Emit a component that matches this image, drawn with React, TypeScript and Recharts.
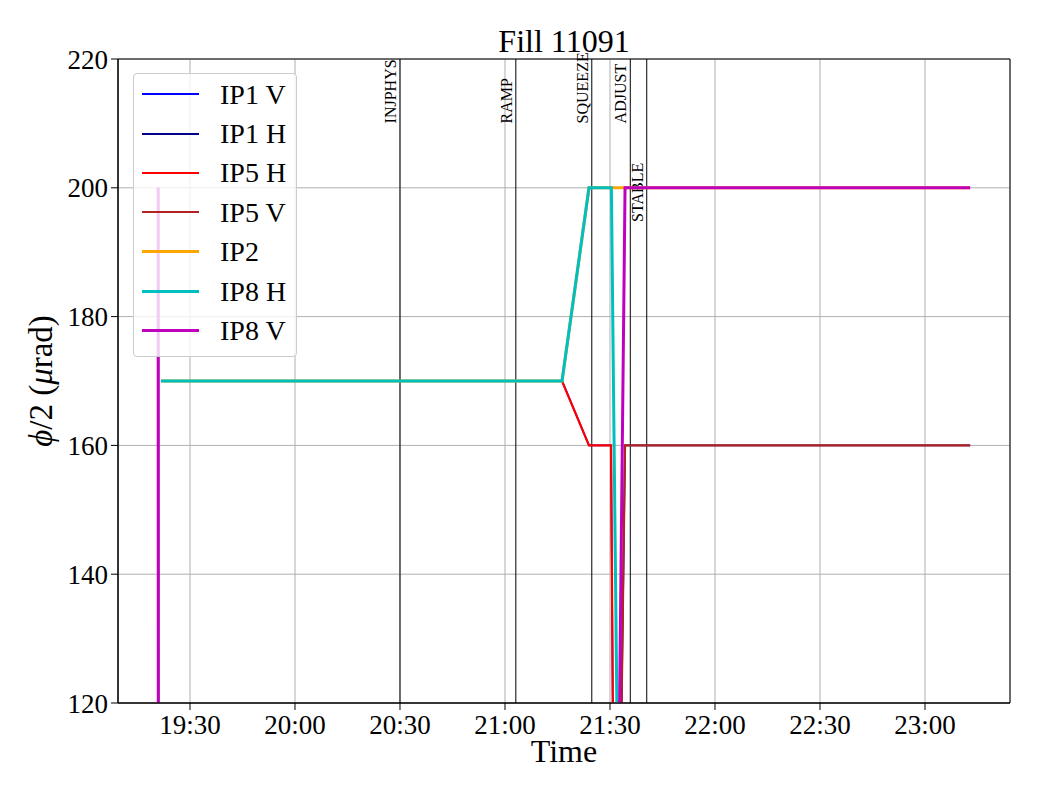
import {
  LineChart,
  Line,
  XAxis,
  YAxis,
  CartesianGrid,
  ReferenceLine,
  ReferenceArea,
  Legend,
  Label,
} from "recharts";

const FONT = '"Liberation Serif", "DejaVu Serif", serif';

// times are minutes after 19:00
const IP1_V_TIME = [21.7, 136.3, 144.0, 150.3, 152.3, 252.9];
const IP1_V_VALUE = [170, 170, 160, 160, 0, 0];
const IP1_H_TIME = [20.9, 21.0, 150.4, 154.3, 252.9];
const IP1_H_VALUE = [200, 0, 0, 160, 160];
const IP5_H_TIME = [21.7, 136.3, 144.0, 150.3, 152.3, 252.9];
const IP5_H_VALUE = [170, 170, 160, 160, 0, 0];
const IP5_V_TIME = [20.9, 21.0, 150.4, 154.3, 252.9];
const IP5_V_VALUE = [200, 0, 0, 160, 160];
const IP2_TIME = [21.7, 136.3, 144.0, 252.9];
const IP2_VALUE = [170, 170, 200, 200];
const IP8_H_TIME = [21.7, 136.3, 144.0, 150.4, 154.3, 252.9];
const IP8_H_VALUE = [170, 170, 200, 200, 0, 0];
const IP8_V_TIME = [20.9, 21.0, 150.4, 154.3, 252.9];
const IP8_V_VALUE = [200, 0, 0, 200, 200];

const EVENT_NAMES = ["INJPHYS", "RAMP", "SQUEEZE", "ADJUST", "STABLE"];
const EVENT_TIMES = [90.0, 123.1, 144.8, 155.8, 160.5];
const EVENT_LABEL_AT = [210, 210, 210, 210, 194.7];

const X_TICKS = [30, 60, 90, 120, 150, 180, 210, 240];
const Y_TICKS = [120, 140, 160, 180, 200, 220];

const toPoints = (t: number[], v: number[]) =>
  t.map((x, i) => ({ t: x, v: v[i] }));

const SERIES = [
  { name: "IP1 V", color: "#0000ff", width: 1.8, data: toPoints(IP1_V_TIME, IP1_V_VALUE) },
  { name: "IP1 H", color: "#00008b", width: 1.8, data: toPoints(IP1_H_TIME, IP1_H_VALUE) },
  { name: "IP5 H", color: "#ff0000", width: 2.2, data: toPoints(IP5_H_TIME, IP5_H_VALUE) },
  { name: "IP5 V", color: "#b22222", width: 2.2, data: toPoints(IP5_V_TIME, IP5_V_VALUE) },
  { name: "IP2", color: "#ffa500", width: 3, data: toPoints(IP2_TIME, IP2_VALUE) },
  { name: "IP8 H", color: "#00bfbf", width: 3, data: toPoints(IP8_H_TIME, IP8_H_VALUE) },
  { name: "IP8 V", color: "#bf00bf", width: 3, data: toPoints(IP8_V_TIME, IP8_V_VALUE) },
];

const fmtTime = (m: number) =>
  `${19 + Math.floor(m / 60)}:${String(m % 60).padStart(2, "0")}`;

const eventLabel = (name: string, level: number) => (props: any) => {
  const vb = props.viewBox;
  const top = Math.min(vb.y, vb.y + vb.height);
  const h = Math.abs(vb.height);
  const x = vb.x - 4;
  const y = top + (h * (220 - level)) / 100;
  return (
    <text
      x={x}
      y={y}
      transform={`rotate(-90 ${x} ${y})`}
      fontFamily={FONT}
      fontSize={16}
      fill="#000"
    >
      {name}
    </text>
  );
};

const YLabel = (props: any) => {
  const vb = props.viewBox;
  const x = vb.x + 52;
  const y = vb.y + vb.height / 2;
  return (
    <text
      x={x}
      y={y}
      transform={`rotate(-90 ${x} ${y})`}
      textAnchor="middle"
      fontFamily={FONT}
      fontSize={33}
      fill="#000"
    >
      <tspan fontStyle="italic">ϕ</tspan>/2 (<tspan fontStyle="italic">μ</tspan>rad)
    </text>
  );
};

const XLabel = (props: any) => {
  const vb = props.viewBox;
  return (
    <text
      x={vb.x + vb.width / 2}
      y={762}
      textAnchor="middle"
      fontFamily={FONT}
      fontSize={32}
      fill="#000"
    >
      Time
    </text>
  );
};

const LegendBox = () => (
  <div
    style={{
      width: 164,
      height: 284,
      boxSizing: "border-box",
      border: "1px solid #cccccc",
      borderRadius: 4,
      background: "rgba(255,255,255,0.8)",
      paddingTop: 0.6,
      fontFamily: FONT,
    }}
  >
    {SERIES.map((s) => (
      <div
        key={s.name}
        style={{ display: "flex", alignItems: "center", height: 39.4 }}
      >
        <div
          style={{
            marginLeft: 8,
            width: 57,
            height: s.width < 2.5 ? 2 : 3,
            background: s.color,
          }}
        />
        <span style={{ marginLeft: 21, fontSize: 28, color: "#000", lineHeight: "39.4px" }}>
          {s.name}
        </span>
      </div>
    ))}
  </div>
);

const tickStyle = { fontSize: 27, fill: "#000", fontFamily: FONT };

const App = () => {
  return (
    <div style={{ position: "absolute", left: 0, top: 0, width: 1040, height: 800, background: "#fff" }}>
      <div
        style={{
          position: "absolute",
          left: 118,
          top: 25,
          width: 892,
          textAlign: "center",
          fontFamily: FONT,
          fontSize: 32,
          lineHeight: "32px",
          color: "#000",
          zIndex: 1,
        }}
      >
        Fill 11091
      </div>
      <LineChart
        width={1040}
        height={800}
        margin={{ top: 59, right: 30, bottom: 0, left: 0 }}
      >
        <CartesianGrid stroke="#b0b0b0" strokeWidth={1} />
        <XAxis
          dataKey="t"
          type="number"
          domain={[9.43, 264.29]}
          allowDataOverflow
          ticks={X_TICKS}
          interval={0}
          tickFormatter={fmtTime}
          height={97}
          tick={tickStyle}
          tickSize={7}
          tickMargin={5}
          stroke="#000"
        >
          <Label content={XLabel} />
        </XAxis>
        <YAxis
          type="number"
          domain={[120, 220]}
          allowDataOverflow
          ticks={Y_TICKS}
          interval={0}
          width={118}
          tick={tickStyle}
          tickSize={7}
          tickMargin={3}
          stroke="#000"
        >
          <Label content={YLabel} />
        </YAxis>
        {EVENT_NAMES.map((name, i) => (
          <ReferenceLine
            key={name}
            x={EVENT_TIMES[i]}
            stroke="#000"
            strokeWidth={1}
            label={eventLabel(name, EVENT_LABEL_AT[i])}
          />
        ))}
        {SERIES.map((s) => (
          <Line
            key={s.name}
            data={s.data}
            dataKey="v"
            name={s.name}
            type="linear"
            stroke={s.color}
            strokeWidth={s.width}
            dot={false}
            activeDot={false}
            isAnimationActive={false}
          />
        ))}
        <ReferenceArea
          x1={9.43}
          x2={264.29}
          y1={120}
          y2={220}
          fill="none"
          stroke="#000"
          strokeWidth={1}
          ifOverflow="extendDomain"
        />
        <Legend
          layout="vertical"
          align="center"
          verticalAlign="middle"
          content={LegendBox}
          wrapperStyle={{ left: 133, top: 73, width: 164, height: 284 }}
        />
      </LineChart>
    </div>
  );
};

export default App;
